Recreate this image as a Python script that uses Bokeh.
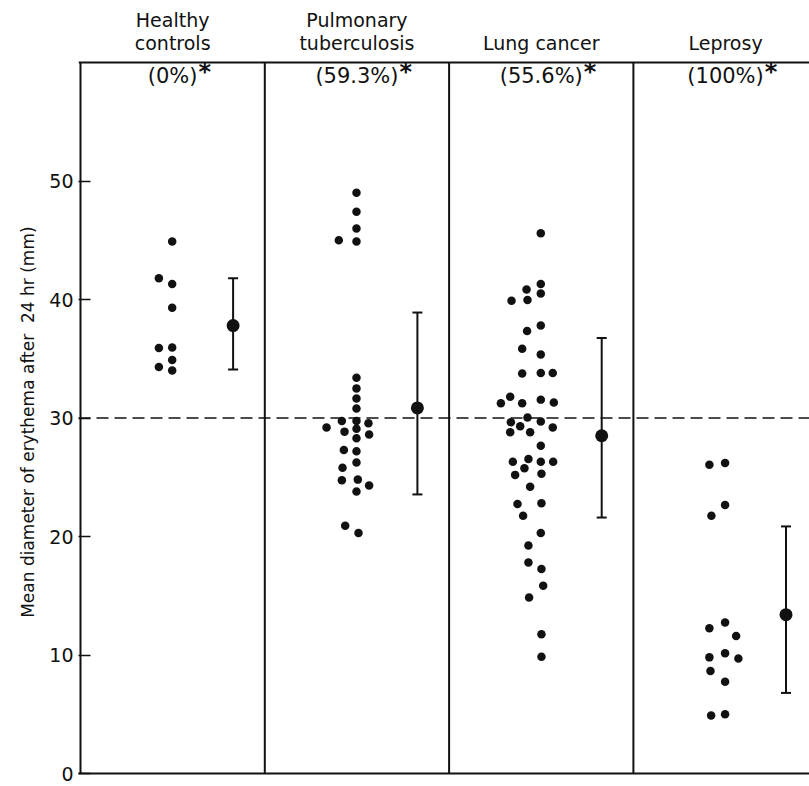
from bokeh.plotting import figure
from bokeh.models import (ColumnDataSource, Range1d, FixedTicker, Span, Whisker, TeeHead)
from bokeh.embed import file_html
from bokeh.resources import INLINE
from bokeh.core.properties import value

# ---------------- data ----------------
groups = ["Healthy\ncontrols", "Pulmonary\ntuberculosis", "Lung cancer", "Leprosy"]
pct_labels = ["(0%)", "(59.3%)", "(55.6%)", "(100%)"]

healthy_vals = [44.9, 41.8, 41.3, 39.3, 35.9, 35.95, 34.9, 34.3, 34.0]
healthy_slot = [0, -1, 0, 0, -1, 0, 0, -1, 0]

pulm_vals = [49.0, 47.4, 46.0, 45.0, 44.9, 33.4, 32.5, 31.65, 30.8, 29.75, 29.75,
             29.55, 29.2, 28.85, 29.1, 28.6, 28.3, 27.3, 27.2, 26.25, 25.8, 24.75,
             24.8, 24.3, 23.8, 20.9, 20.3]
pulm_slot = [0, 0, 0, -1.33, 0, 0, 0, 0, 0, -1.1, 0, 0.9, -2.25, -0.9, 0, 0.95, 0,
             -0.95, 0, 0, -1.05, -1.1, 0.1, 0.95, 0, -0.85, 0.15]

lung_vals = [45.6, 41.3, 40.85, 40.5, 39.9, 39.95, 37.8, 37.35, 35.85, 35.35,
             33.75, 33.8, 33.8, 31.8, 31.25, 31.25, 31.55, 31.3, 30.05, 29.65,
             29.7, 29.3, 29.2, 28.8, 28.8, 27.65, 26.3, 26.55, 26.3, 26.3,
             25.75, 25.2, 25.3, 24.2, 22.75, 22.8, 21.75, 20.3, 19.25, 17.8,
             17.25, 15.85, 14.85, 11.75, 9.85]
lung_slot = [0, 0, -1.07, 0, -2.2, -1.0, 0, -1.03, -1.4, 0,
             -1.4, 0, 0.9, -2.3, -3.0, -1.4, 0, 0.98, -1.0, -2.25,
             0, -1.55, 0.9, -2.3, -0.8, 0, -2.1, -0.93, 0, 0.93,
             -1.23, -1.93, 0.05, -0.8, -1.75, 0.05, -1.33, 0, -0.93, -0.93,
             0.05, 0.18, -0.88, 0.05, 0.05]

lep_vals = [26.05, 26.2, 22.65, 21.75, 12.75, 12.25, 11.6, 10.15, 9.8, 9.7, 8.65,
            7.75, 4.9, 5.0]
lep_slot = [-1.18, 0, 0, -1.03, 0, -1.18, 0.83, 0, -1.18, 1.0, -1.1, 0, -1.05, 0]

group_means = [37.8, 30.85, 28.5, 13.4]
group_upper = [41.8, 38.9, 36.75, 20.85]
group_lower = [34.1, 23.55, 21.6, 6.8]

y_ticks = [0, 10, 20, 30, 40, 50]
y_top = 60
threshold = 30
y_label = "Mean diameter of erythema after\u00a0 24 hr (mm)"

# ---------------- styling ----------------
FONT = "DejaVu Sans"
INK = "#111111"
PANEL_PX = 184.3
PX_PER_UNIT = 11.85
FRAME_W = 731
FRAME_H = 773
X_START = -2 / PANEL_PX
X_END = X_START + FRAME_W / PANEL_PX
Y_END = FRAME_H / PX_PER_UNIT
SLOT = 13.3 / PANEL_PX
DOT_POS = 0.4975
MEAN_POS = 0.828
LABEL_PAD = "\u00a0" * 13   # shifts the rotated axis label down to the box centre

p = figure(width=809, height=786, output_backend="svg", toolbar_location=None,
           x_range=Range1d(X_START, X_END), y_range=Range1d(0, Y_END),
           min_border_left=78, min_border_right=0, min_border_top=0,
           min_border_bottom=13)
p.outline_line_color = None
p.xgrid.visible = False
p.ygrid.visible = False
p.background_fill_color = "white"
p.border_fill_color = "white"

# bottom line as x axis without ticks
xa = p.xaxis[0]
xa.ticker = FixedTicker(ticks=[])
xa.axis_line_width = 2
xa.axis_line_color = INK
xa.major_tick_line_color = None
xa.minor_tick_line_color = None
xa.major_label_text_font_size = "0px"

ya = p.yaxis[0]
ya.ticker = FixedTicker(ticks=y_ticks)
ya.axis_line_color = None
ya.major_tick_in = 12
ya.major_tick_out = 0
ya.major_tick_line_width = 1.5
ya.major_tick_line_color = INK
ya.minor_tick_line_color = None
ya.major_label_standoff = 5
ya.major_label_text_font = FONT
ya.major_label_text_font_size = "19px"
ya.major_label_text_color = INK
ya.axis_label = y_label + LABEL_PAD
ya.axis_label_text_font = FONT
ya.axis_label_text_font_size = "17px"
ya.axis_label_text_font_style = "normal"
ya.axis_label_text_color = INK
ya.axis_label_standoff = 8

# box: left line, top line and panel dividers
n = len(groups)
p.segment(x0=list(range(n)), y0=[0] * n, x1=list(range(n)), y1=[y_top] * n,
          line_color=INK, line_width=2)
p.add_layout(Span(location=y_top, dimension="width", line_color=INK, line_width=2))
p.add_layout(Span(location=threshold, dimension="width", line_color=INK,
                  line_width=1.5, line_dash="12 6"))

all_vals = [healthy_vals, pulm_vals, lung_vals, lep_vals]
all_slots = [healthy_slot, pulm_slot, lung_slot, lep_slot]
xs, ys = [], []
for i, (vals, slots) in enumerate(zip(all_vals, all_slots)):
    for v, s in zip(vals, slots):
        xs.append(i + DOT_POS + s * SLOT)
        ys.append(v)
p.scatter(x="x", y="y", source=ColumnDataSource(dict(x=xs, y=ys)), size=8.5,
          fill_color=INK, line_color=None)

mean_src = ColumnDataSource(dict(x=[i + MEAN_POS for i in range(n)],
                                 m=group_means, up=group_upper, lo=group_lower))
p.add_layout(Whisker(source=mean_src, base="x", upper="up", lower="lo",
                     dimension="height", line_width=2, line_color=INK,
                     upper_head=TeeHead(size=10, line_width=2, line_color=INK),
                     lower_head=TeeHead(size=10, line_width=2, line_color=INK)))
p.scatter(x="x", y="m", source=mean_src, size=13, fill_color=INK, line_color=None)

# panel titles (above the box)
tx, ty, tt = [], [], []
for i, g in enumerate(groups):
    lines = g.split("\n")
    for j, line in enumerate(lines):
        tx.append(i + 0.5)
        ty.append(y_top + 1.65 + (len(lines) - 1 - j) * 1.95)
        tt.append(line)
p.text(x="x", y="y", text="t", source=ColumnDataSource(dict(x=tx, y=ty, t=tt)),
       text_align="center", text_baseline="alphabetic", text_font=value(FONT),
       text_font_size="19px", text_color=INK)

# percentage labels with asterisk
CW = {"(": 0.39, ")": 0.39, "%": 0.95, ".": 0.318}
PCT_SIZE = 21
px_list, ast_x = [], []
for i, t in enumerate(pct_labels):
    w = sum(CW.get(c, 0.636) for c in t) * PCT_SIZE
    px_list.append(i + 0.5)
    ast_x.append(i + 0.5 + (w / 2 + 1) / PANEL_PX)
p.text(x="x", y="y", text="t",
       source=ColumnDataSource(dict(x=px_list, y=[y_top - 1.1] * n, t=pct_labels)),
       text_align="center", text_baseline="middle", text_font=value(FONT),
       text_font_size=f"{PCT_SIZE}px", text_color=INK)
p.text(x="x", y="y", text="t",
       source=ColumnDataSource(dict(x=ast_x, y=[y_top - 1.1] * n, t=["*"] * n)),
       text_align="left", text_baseline="middle", text_font=value(FONT),
       text_font_size="24px", text_font_style="bold", text_color=INK, y_offset=-4)

open("out.html", "w").write(file_html(p, INLINE))
